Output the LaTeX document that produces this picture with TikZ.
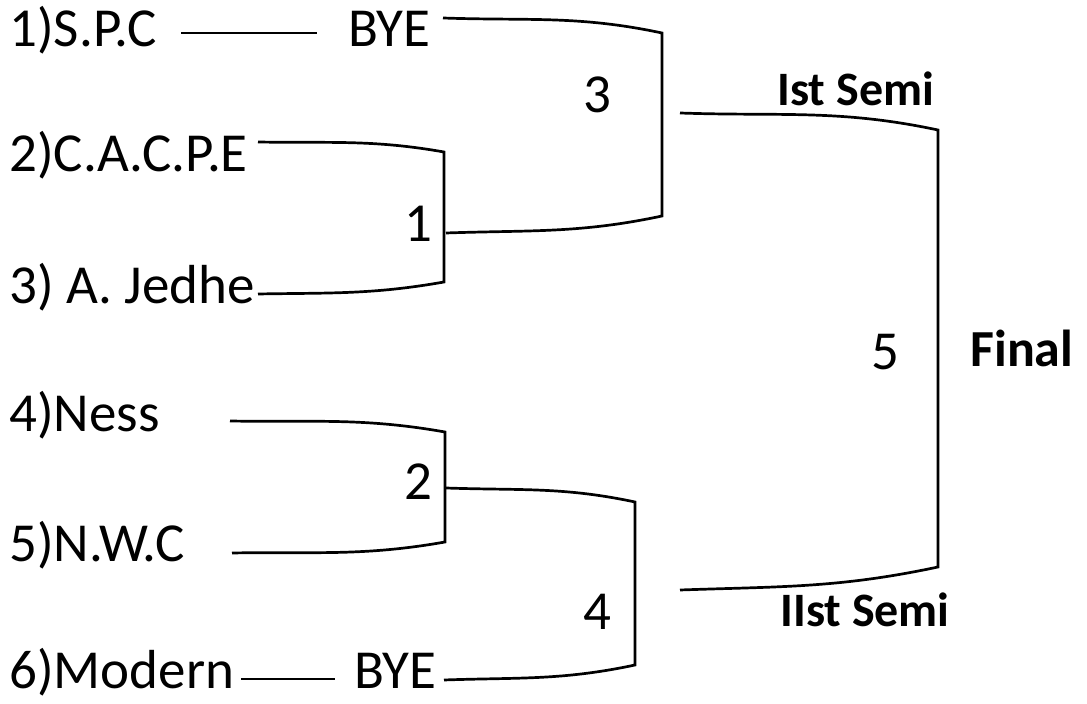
\documentclass[tikz,border=0pt]{standalone}
\usepackage{fontspec}
\setmainfont{Carlito}
\usepackage{tikz}
\usetikzlibrary{positioning}

\begin{document}
\begin{tikzpicture}[
    x=0.5pt,y=-0.5pt,
    team/.style={font={\fontsize{27.5}{30}\selectfont},inner sep=0pt,anchor=base west},
    num/.style={font={\fontsize{27.5}{30}\selectfont},inner sep=0pt},
    stage/.style={font={\fontsize{24}{28}\selectfont\bfseries},inner sep=0pt,anchor=base west},
    brk/.style={line width=1.35pt,color=black}
]
    \useasboundingbox (0,0) rectangle (1087,704);

    % teams
    \node[team] (spc) at (9, 47) {1)S.P.C};
    \node[team] (cacpe) at (9, 172) {2)C.A.C.P.E};
    \node[team] (jedhe) at (9, 304) {3) A. Jedhe};
    \node[team] (ness) at (9, 432) {4)Ness};
    \node[team] (nwc) at (9, 562) {5)N.W.C};
    \node[team] (modern) at (9, 689) {6)Modern};
    \node[team] (byeA) at (348, 47) {BYE};
    \node[team] (byeB) at (354, 689) {BYE};

    % match numbers
    \node[num] (m1) at (418, 224) {1};
    \node[num] (m2) at (418, 482) {2};
    \node[num] (m3) at (597, 95) {3};
    \node[num] (m4) at (597, 612) {4};
    \node[num] (m5) at (885, 352) {5};

    \node[stage] (semiA) at (777, 106) {Ist Semi};
    \node[stage] (semiB) at (780, 627) {IIst Semi};
    \node[stage,font={\fontsize{26}{30}\selectfont\bfseries}] (final) at (970, 367) {Final};

    % bye lines
    \coordinate (byeAl) at (181, 33);
    \coordinate (byeAr) at (317, 33);
    \coordinate (byeBl) at (241, 679);
    \coordinate (byeBr) at (335, 679);
    \draw[brk] (byeAl) -- (byeAr);
    \draw[brk] (byeBl) -- (byeBr);

    % match 1
    \coordinate (a1) at (258, 142);
    \coordinate (b1) at (444, 152);
    \coordinate (c1) at (444, 282);
    \coordinate (d1) at (258, 294);
    \draw[brk] (a1) to[out=-1,in=170] (b1) -- (c1) to[out=190,in=1] (d1);

    % match 2
    \coordinate (a2) at (230, 421);
    \coordinate (b2) at (445, 432);
    \coordinate (c2) at (445, 542);
    \coordinate (d2) at (232, 553);
    \draw[brk] (a2) to[out=-1,in=170] (b2) -- (c2) to[out=190,in=1] (d2);

    % match 3
    \coordinate (a3) at (443, 18);
    \coordinate (b3) at (662, 33);
    \coordinate (c3) at (662, 216);
    \coordinate (d3) at (446, 233);
    \draw[brk] (a3) to[out=-2,in=168] (b3) -- (c3) to[out=192,in=2] (d3);

    % match 4
    \coordinate (a4) at (446, 488);
    \coordinate (b4) at (635, 502);
    \coordinate (c4) at (635, 665);
    \coordinate (d4) at (444, 680);
    \draw[brk] (a4) to[out=-2,in=168] (b4) -- (c4) to[out=192,in=2] (d4);

    % final
    \coordinate (a5) at (680, 113);
    \coordinate (b5) at (938, 130);
    \coordinate (c5) at (938, 567);
    \coordinate (d5) at (680, 590);
    \draw[brk] (a5) to[out=-2,in=168] (b5) -- (c5) to[out=192,in=2] (d5);

\end{tikzpicture}
\end{document}
